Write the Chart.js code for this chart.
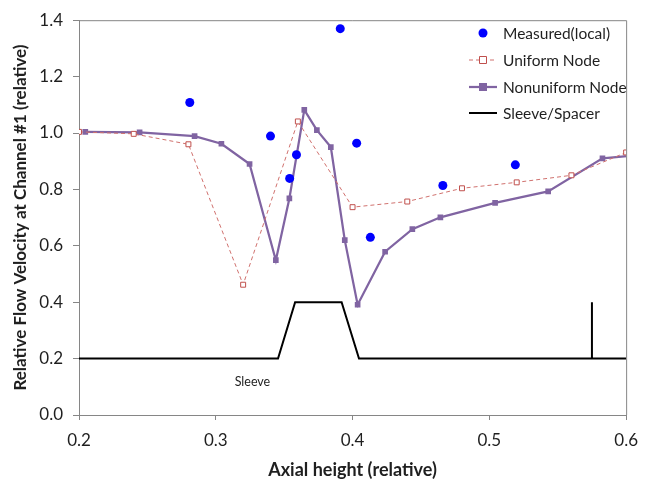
<!DOCTYPE html>
<html>
<head>
<meta charset="utf-8">
<script src="https://cdn.jsdelivr.net/npm/chart.js@4/dist/chart.umd.min.js"></script>
<style>
  html, body { margin: 0; padding: 0; background: #fff; }
</style>
</head>
<body>
<canvas id="flowChart" width="648" height="484"></canvas>
<script>
// ---- data ----
const measuredX = [0.281, 0.340, 0.354, 0.359, 0.391, 0.403, 0.413, 0.466, 0.519];
const measuredY = [1.108, 0.989, 0.839, 0.923, 1.370, 0.964, 0.630, 0.814, 0.887];

const uniformX = [0.20, 0.24, 0.28, 0.32, 0.36, 0.40, 0.44, 0.48, 0.52, 0.56, 0.60];
const uniformY = [1.004, 0.997, 0.960, 0.462, 1.041, 0.737, 0.757, 0.804, 0.825, 0.850, 0.931];

const nonuniformX = [0.2046, 0.2443, 0.2845, 0.3041, 0.3247, 0.3439, 0.3538, 0.3647, 0.3739,
                     0.3841, 0.3943, 0.4037, 0.4238, 0.4437, 0.4642, 0.5042, 0.5430, 0.5827, 0.622];
const nonuniformY = [1.004, 1.002, 0.989, 0.962, 0.890, 0.549, 0.768, 1.082, 1.010,
                     0.950, 0.620, 0.391, 0.579, 0.659, 0.701, 0.752, 0.793, 0.910, 0.928];

// sleeve outline, then a break (null), then the spacer mark
const sleeveX = [0.2, 0.3455, 0.358, 0.392, 0.4047, 0.6, 0.575, 0.575, 0.575];
const sleeveY = [0.2, 0.2, 0.4, 0.4, 0.2, 0.2, null, 0.2, 0.4];

const xTicks = [0.2, 0.3, 0.4, 0.5, 0.6];
const yTicks = [0.0, 0.2, 0.4, 0.6, 0.8, 1.0, 1.2, 1.4];

const sleeveLabel = { text: "Sleeve", x: 0.3268, y: 0.116 };

const toPoints = (xs, ys) => xs.map((x, i) => ({ x: x, y: ys[i] }));

const FONT = "Lato, 'Open Sans', sans-serif";
const AXIS_GREY = "#868686";
const TEXT = "#1f1f1f";

// frame on top/right, the "Sleeve" note and the in-plot legend
const decorPlugin = {
  id: "decor",
  afterDraw(chart) {
    const ctx = chart.ctx;
    const a = chart.chartArea;
    ctx.save();
    ctx.strokeStyle = AXIS_GREY;
    ctx.lineWidth = 1;
    ctx.beginPath();
    ctx.moveTo(a.left, a.top + 0.5);
    ctx.lineTo(a.right + 0.5, a.top + 0.5);
    ctx.lineTo(a.right + 0.5, a.bottom);
    ctx.stroke();

    // Sleeve note
    ctx.fillStyle = TEXT;
    ctx.font = "12.5px " + FONT;
    ctx.textAlign = "center";
    ctx.textBaseline = "middle";
    ctx.fillText(sleeveLabel.text,
      chart.scales.x.getPixelForValue(sleeveLabel.x),
      chart.scales.y.getPixelForValue(sleeveLabel.y));

    // legend
    const rowY = [33, 60, 87, 113];
    const lineL = 469, lineR = 497, markX = 483, textX = 503;
    ctx.font = "15.5px " + FONT;
    ctx.textAlign = "left";
    chart.data.datasets.forEach((ds, i) => {
      const y = rowY[i];
      if (ds.showLine !== false) {
        ctx.save();
        ctx.strokeStyle = ds.borderColor;
        ctx.lineWidth = ds.borderWidth;
        ctx.setLineDash(ds.borderDash || []);
        ctx.beginPath();
        ctx.moveTo(lineL, y);
        ctx.lineTo(lineR, y);
        ctx.stroke();
        ctx.restore();
      }
      if (ds.pointRadius > 0) {
        ctx.fillStyle = ds.pointBackgroundColor;
        ctx.strokeStyle = ds.pointBorderColor;
        ctx.lineWidth = ds.pointBorderWidth;
        ctx.beginPath();
        if (ds.pointStyle === "circle") {
          ctx.arc(markX, y, ds.pointRadius, 0, Math.PI * 2);
        } else {
          ctx.rect(markX - ds.pointRadius, y - ds.pointRadius, ds.pointRadius * 2, ds.pointRadius * 2);
        }
        ctx.fill();
        if (ds.pointBorderWidth) ctx.stroke();
      }
      ctx.fillStyle = TEXT;
      ctx.fillText(ds.label, textX, y + 1);
    });
    ctx.restore();
  }
};

const ctx = document.getElementById("flowChart").getContext("2d");
new Chart(ctx, {
  type: "scatter",
  data: {
    datasets: [
      {
        label: "Measured(local)",
        data: toPoints(measuredX, measuredY),
        showLine: false,
        pointStyle: "circle",
        pointRadius: 4.5,
        pointBackgroundColor: "#0000FF",
        pointBorderColor: "#0000FF",
        pointBorderWidth: 0,
        borderColor: "#0000FF"
      },
      {
        label: "Uniform Node",
        data: toPoints(uniformX, uniformY),
        showLine: true,
        borderColor: "#D0716E",
        borderWidth: 1,
        borderDash: [4, 3],
        pointStyle: "rect",
        pointRadius: 3.5,
        pointBackgroundColor: "#FFFFFF",
        pointBorderColor: "#C0504D",
        pointBorderWidth: 1
      },
      {
        label: "Nonuniform Node",
        data: toPoints(nonuniformX, nonuniformY),
        showLine: true,
        borderColor: "#8064A2",
        borderWidth: 2.25,
        pointStyle: "rect",
        pointRadius: 4,
        pointBackgroundColor: "#8064A2",
        pointBorderColor: "#8064A2",
        pointBorderWidth: 0
      },
      {
        label: "Sleeve/Spacer",
        data: toPoints(sleeveX, sleeveY),
        showLine: true,
        spanGaps: false,
        borderColor: "#000000",
        borderWidth: 2,
        pointRadius: 0,
        pointHoverRadius: 0
      }
    ]
  },
  options: {
    responsive: false,
    animation: false,
    layout: { padding: { left: 0, top: 13, right: 20, bottom: 0 } },
    plugins: {
      legend: { display: false },
      tooltip: { enabled: false }
    },
    scales: {
      x: {
        type: "linear",
        min: 0.2,
        max: 0.6,
        afterFit: (s) => { s.height = 69; },
        afterBuildTicks: (s) => { s.ticks = xTicks.map(v => ({ value: v })); },
        ticks: {
          color: TEXT,
          font: { family: FONT, size: 17 },
          padding: 10,
          maxRotation: 0,
          callback: (v) => Number(v).toFixed(1)
        },
        grid: { drawOnChartArea: false, drawTicks: true, tickLength: 5, color: AXIS_GREY },
        border: { color: AXIS_GREY },
        title: {
          display: true,
          text: "Axial height (relative)",
          color: TEXT,
          font: { family: FONT, size: 18, weight: "bold" },
          padding: { top: 3, bottom: 3 }
        }
      },
      y: {
        type: "linear",
        min: 0,
        max: 1.4,
        afterFit: (s) => { s.width = 79; },
        afterBuildTicks: (s) => { s.ticks = yTicks.map(v => ({ value: v })); },
        ticks: {
          color: TEXT,
          font: { family: FONT, size: 17 },
          padding: 10,
          callback: (v) => Number(v).toFixed(1)
        },
        grid: { drawOnChartArea: false, drawTicks: true, tickLength: 6, color: AXIS_GREY },
        border: { color: AXIS_GREY },
        title: {
          display: true,
          text: "Relative Flow Velocity at Channel #1 (relative)",
          color: TEXT,
          font: { family: FONT, size: 17, weight: "bold" },
          padding: { top: 10, bottom: 0 }
        }
      }
    }
  },
  plugins: [decorPlugin]
});
</script>
</body>
</html>
